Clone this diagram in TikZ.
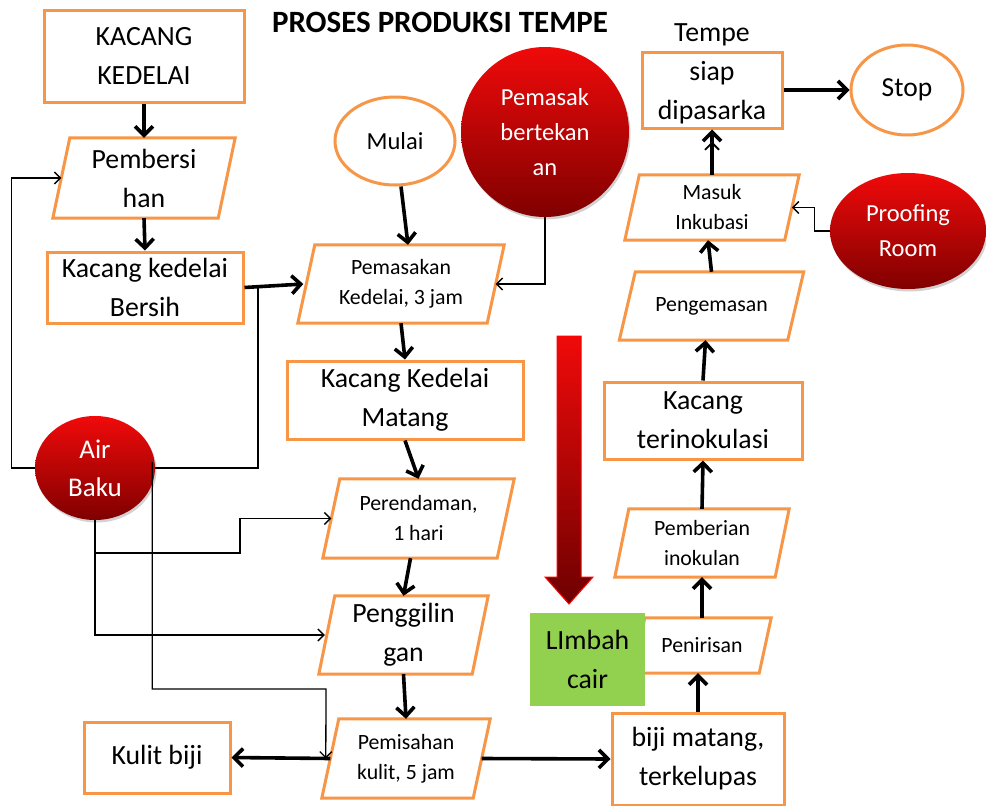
\documentclass[tikz,border=0pt]{standalone}
\usepackage{fontspec}
\setmainfont{Carlito}
\usetikzlibrary{shapes.geometric,arrows.meta,shadows}
\definecolor{orng}{RGB}{247,150,70}
\definecolor{grn}{RGB}{146,208,80}
\definecolor{redtop}{RGB}{240,10,10}
\definecolor{redbot}{RGB}{128,0,0}
\tikzset{
  oline/.style={draw=orng, line width=3pt},
  obox/.style={rectangle, draw=orng, line width=3pt, fill=white, inner sep=0pt, align=center},
  oell/.style={ellipse, draw=orng, line width=3pt, fill=white, inner sep=0pt, align=center},
  big/.style={font=\fontsize{27.8}{39}\selectfont},
  small/.style={font=\fontsize{21.8}{30}\selectfont},
  redball/.style={ellipse, top color=redtop, bottom color=redbot, draw=none, text=white,
    inner sep=0pt, align=center, drop shadow={shadow xshift=1.5pt, shadow yshift=-2.5pt, opacity=0.35}},
  thickarrow/.style={line width=3.6pt, -{Straight Barb[length=9pt,width=18pt]}},
  thinline/.style={line width=1.3pt},
  thinarrow/.style={line width=1.3pt, -{Straight Barb[length=6pt,width=12pt]}}
}
% name, cx, cy, width, height, skew, style, text
\newcommand{\pgram}[8]{%
  \node[inner sep=0pt, minimum width=#4pt, minimum height=#5pt, align=center, #7] (#1) at (#2,#3) {#8};
  \draw[oline] ([xshift=#6pt/2]#1.north west) -- ([xshift=#6pt/2]#1.north east)
    -- ([xshift=-#6pt/2]#1.south east) -- ([xshift=-#6pt/2]#1.south west) -- cycle;
}
\begin{document}
\begin{tikzpicture}[x=1pt,y=-1pt]
\useasboundingbox[fill=white] (0,0) rectangle (986,806);

% title
\node[font=\fontsize{31}{36}\selectfont\bfseries] (title) at (440,22) {PROSES PRODUKSI TEMPE};

% left column
\node[obox, big, minimum width=200pt, minimum height=92pt] (kacang) at (144,56) {KACANG\\KEDELAI};
\pgram{pemb}{144}{178}{165}{80}{17}{big}{Pembersi\\han}
\node[obox, big, minimum width=196pt, minimum height=71pt] (bersih) at (145,287.5) {Kacang kedelai\\Bersih};
\node[obox, big, minimum width=146pt, minimum height=71pt] (kulit) at (157,757.5) {Kulit biji};

% middle column
\node[oell, font=\fontsize{24.5}{28}\selectfont, minimum width=120pt, minimum height=88pt] (mulai) at (395,141) {Mulai};
\pgram{pemasakan}{401}{284}{189}{78}{17}{small}{Pemasakan\\Kedelai, 3 jam}
\node[obox, big, minimum width=236pt, minimum height=78pt] (matang) at (405,400) {Kacang Kedelai\\Matang};
\pgram{rendam}{418.5}{518.5}{174}{79}{17}{small}{Perendaman,\\1 hari}
\pgram{giling}{403.5}{635}{153}{78}{16}{big}{Penggilin\\gan}
\pgram{pisah}{406}{758.5}{151}{79}{17}{small}{Pemisahan\\kulit, 5 jam}

% red balls
\node[redball, font=\fontsize{24.5}{35}\selectfont, minimum width=168pt, minimum height=170pt] (pemasak) at (545,132) {Pemasak\\bertekan\\an};
\node[redball, font=\fontsize{24.5}{35}\selectfont, minimum width=156pt, minimum height=116pt] (proof) at (908,231) {Proofing\\Room};
\node[redball, font=\fontsize{27}{38}\selectfont, minimum width=120pt, minimum height=104pt] (air) at (95,468) {Air\\Baku};

% big red arrow
\draw[line width=1pt, draw=red, top color=redtop, bottom color={rgb,255:red,110;green,0;blue,0}]
  (557,336) -- (581,336) -- (581,577) -- (593,577) -- (569,604) -- (545,577) -- (557,577) -- cycle;

% right column
\node[obox, minimum width=140pt, minimum height=76pt] (tempe) at (712,90) {};
\node[font=\fontsize{27.8}{39}\selectfont, align=center, inner sep=0pt] (tempetxt) at (712,74) {Tempe\\siap\\dipasarka};
\node[oell, font=\fontsize{27.5}{30}\selectfont, minimum width=112pt, minimum height=90pt] (stop) at (907,90) {Stop};
\pgram{masuk}{712}{207.5}{159.5}{65}{14.5}{small}{Masuk\\Inkubasi}
\pgram{kemas}{711.5}{306}{168}{68}{16}{small}{Pengemasan}
\node[obox, big, minimum width=198pt, minimum height=77pt] (inok) at (703,420.5) {Kacang\\terinokulasi};
\pgram{beri}{702}{543}{160}{68}{14}{small}{Pemberian\\inokulan}
\pgram{tiris}{702}{645.5}{126}{55}{12}{small}{Penirisan}
\node[rectangle, fill=grn, big, align=center, inner sep=0pt, minimum width=115pt, minimum height=93pt] (limbah) at (587.5,659.5) {LImbah\\cair};
\node[obox, big, minimum width=172pt, minimum height=92pt] (biji) at (698,759) {biji matang,\\terkelupas};

% thick connectors
\draw[thickarrow] (kacang.south) -- (pemb.north);
\draw[thickarrow] (pemb.south) -- (bersih.north);
\draw[thickarrow] (bersih.east) -- ([xshift=-3pt]pemasakan.west);
\draw[thickarrow] ([xshift=6pt]mulai.south) -- ([xshift=7pt]pemasakan.north);
\draw[thickarrow] (pemasakan.south) -- (matang.north);
\draw[thickarrow] (matang.south) -- (rendam.north);
\draw[thickarrow] ([xshift=-8pt]rendam.south) -- (giling.north);
\draw[thickarrow] (giling.south) -- (pisah.north);
\draw[thickarrow] (pisah.west) -- (kulit.east);
\draw[thickarrow] (pisah.east) -- (biji.west);
\draw[thickarrow] (biji.north) -- ([xshift=-4pt]tiris.south);
\draw[thickarrow] (tiris.north) -- (beri.south);
\draw[thickarrow] (beri.north) -- (inok.south);
\draw[thickarrow] (inok.north) -- ([xshift=-6pt]kemas.south);
\draw[thickarrow] (kemas.north) -- ([xshift=-4pt]masuk.south);
\draw[thickarrow] (masuk.north) -- (tempe.south);
\draw[white, line width=1.1pt] ([yshift=-12pt]tempe.south) -- ([yshift=-30pt]tempe.south);
\draw[line width=1.8pt, -{Straight Barb[length=7pt,width=14pt]}] ([yshift=-30pt]tempe.south) -- ([yshift=-12pt]tempe.south);
\draw[thickarrow] (tempe.east) -- (stop.west);

% thin connectors
\coordinate (join) at (258,287.5);
\draw[thinarrow] (air.west) -- ++(-23,0) |- (pemb.west);
\draw[thinline] (air.east) -| (join);
\draw[thinarrow] (air.south) |- (240,553) |- (rendam.west);
\draw[thinarrow] (air.south) |- ([xshift=-2pt]giling.west);
\draw[thinarrow] ([xshift=-3pt,yshift=6pt]air.east) |- (326,689) -- ([xshift=-4.5pt]pisah.west);
\draw[thinarrow] (pemasak.south) |- (pemasakan.east);
\draw[thinarrow] (proof.west) -- ++(-15,0) |- (masuk.east);
\end{tikzpicture}
\end{document}
